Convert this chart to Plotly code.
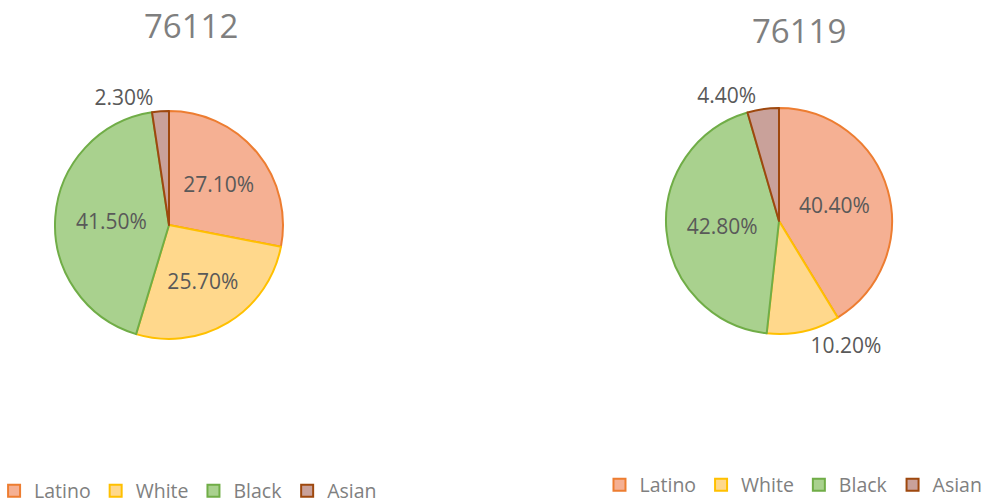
import plotly.graph_objects as go

labels = ["Latino", "White", "Black", "Asian"]
values_76112 = [27.1, 25.7, 41.5, 2.3]
values_76119 = [40.4, 10.2, 42.8, 4.4]
titles = ["76112", "76119"]

fill_colors = ["#F5B093", "#FFD88C", "#A9D18E", "#C9A19A"]
line_colors = ["#ED7D31", "#FFC000", "#70AD47", "#9E480E"]

W, H = 986, 504

def dom_x(cx, r):
    return [(cx - r) / W, (cx + r) / W]

def dom_y(cy, r):
    return [(H - cy - r) / H, (H - cy + r) / H]

def fmt(v):
    return [f"{x:.2f}%" for x in v]

fig = go.Figure()

fig.add_trace(go.Pie(
    labels=labels, values=values_76112, text=fmt(values_76112),
    textinfo="text", sort=False, direction="clockwise", rotation=0,
    textposition=["inside", "inside", "inside", "outside"],
    insidetextorientation="horizontal",
    marker=dict(colors=fill_colors, line=dict(color=line_colors, width=2)),
    domain=dict(x=dom_x(169, 114), y=dom_y(225, 114)),
    textfont=dict(family="Open Sans", size=21, color="#595959"),
    hoverinfo="label+text", legend="legend", legendgroup="a",
))

fig.add_trace(go.Pie(
    labels=labels, values=values_76119, text=fmt(values_76119),
    textinfo="text", sort=False, direction="clockwise", rotation=0,
    textposition=["inside", "outside", "inside", "outside"],
    insidetextorientation="horizontal",
    marker=dict(colors=fill_colors, line=dict(color=line_colors, width=2)),
    domain=dict(x=dom_x(779, 113), y=dom_y(221, 113)),
    textfont=dict(family="Open Sans", size=21, color="#595959"),
    hoverinfo="label+text", legend="legend2", legendgroup="b",
))

legend_common = dict(orientation="h", font=dict(family="Open Sans", size=19.5, color="#808080"),
                     bgcolor="rgba(0,0,0,0)", xanchor="left", yanchor="middle",
                     traceorder="normal")

fig.update_layout(
    width=W, height=H,
    margin=dict(l=0, r=0, t=0, b=0, autoexpand=False),
    paper_bgcolor="white", plot_bgcolor="white",
    showlegend=True,
    legend=dict(x=-0.006, y=(H - 491) / H, **legend_common),
    legend2=dict(x=0.608, y=(H - 485) / H, **legend_common),
    annotations=[
        dict(text=titles[0], x=191 / W, y=(H - 25) / H, xref="paper", yref="paper",
             showarrow=False, xanchor="center", yanchor="middle",
             font=dict(family="Open Sans", size=33, color="#7F7F7F")),
        dict(text=titles[1], x=799 / W, y=(H - 30) / H, xref="paper", yref="paper",
             showarrow=False, xanchor="center", yanchor="middle",
             font=dict(family="Open Sans", size=33, color="#7F7F7F")),
    ],
)

fig.write_html("out.html", config={"displayModeBar": False},
               post_script="document.body.style.margin='0';document.body.style.overflow='hidden';")
